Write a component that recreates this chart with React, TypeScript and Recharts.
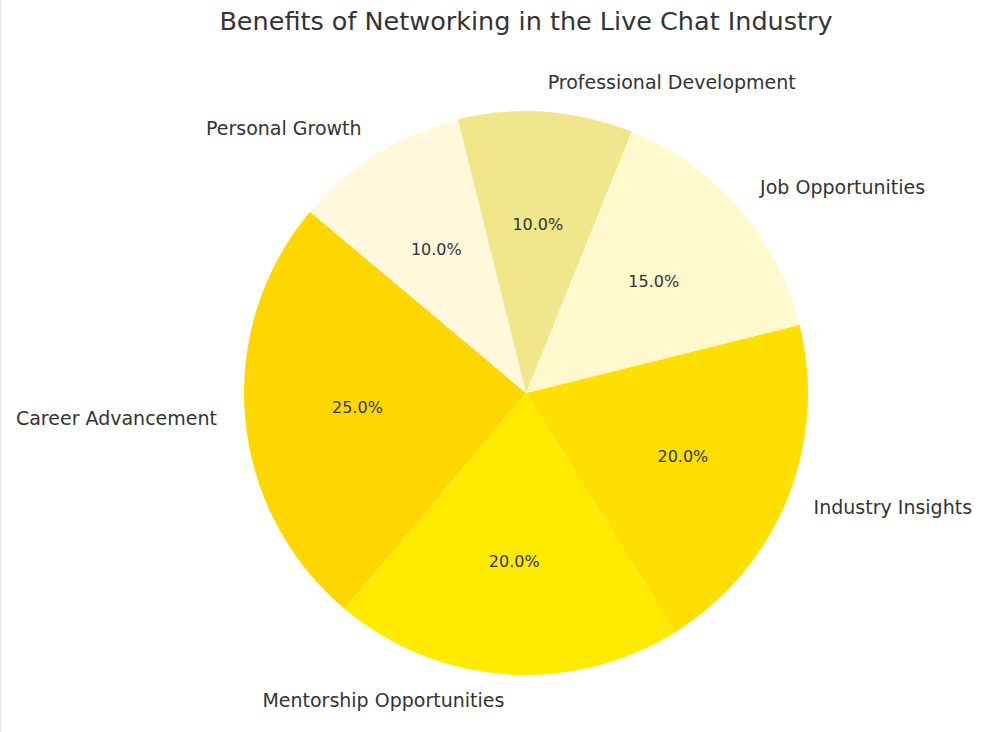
import { PieChart, Pie, Cell } from 'recharts';

const categories = [
  'Career Advancement',
  'Mentorship Opportunities',
  'Industry Insights',
  'Job Opportunities',
  'Professional Development',
  'Personal Growth',
];
const shares = [25, 20, 20, 15, 10, 10];
const colors = ['#FFD700', '#FFEA00', '#FFDF00', '#FFF9CD', '#F0E68C', '#FFF8DC'];

const data = categories.map((name, i) => ({ name, value: shares[i] }));

const RAD = Math.PI / 180;
const font = 'DejaVu Sans, sans-serif';

const renderLabel = ({ cx, cy, midAngle, outerRadius, percent, index }: any) => {
  const cos = Math.cos(-midAngle * RAD);
  const sin = Math.sin(-midAngle * RAD);
  const lx = cx + outerRadius * 1.1 * cos;
  const ly = cy + outerRadius * 1.1 * sin - 2;
  const px = cx + outerRadius * 0.6 * cos;
  const py = cy + outerRadius * 0.6 * sin;
  return (
    <g>
      <text
        x={lx}
        y={ly}
        fill="#333"
        fontSize={19}
        fontFamily={font}
        textAnchor={cos < 0 ? 'end' : 'start'}
        dominantBaseline="central"
      >
        {categories[index]}
      </text>
      <text
        x={px}
        y={py}
        fill="#333"
        fontSize={16}
        fontFamily={font}
        textAnchor="middle"
        dominantBaseline="central"
      >
        {(percent * 100).toFixed(1)}%
      </text>
    </g>
  );
};

export default function App() {
  return (
    <div style={{ position: 'absolute', left: 0, top: 0, width: 990, height: 732, background: '#fff' }}>
      <div style={{ position: 'absolute', left: 0, top: 0, width: 1, height: 732, background: '#e2e2e2' }} />
      <div
        style={{
          position: 'absolute',
          top: 6,
          left: 0,
          width: 1052,
          textAlign: 'center',
          fontFamily: font,
          fontSize: 25.5,
          color: '#333',
        }}
      >
        Benefits of Networking in the Live Chat Industry
      </div>
      <PieChart width={990} height={732} margin={{ top: 0, right: 0, bottom: 0, left: 0 }}>
        <Pie
          data={data}
          dataKey="value"
          nameKey="name"
          cx={526}
          cy={393}
          outerRadius={282}
          startAngle={140}
          endAngle={500}
          stroke="none"
          label={renderLabel}
          labelLine={false}
          isAnimationActive={false}
        >
          {data.map((d, i) => (
            <Cell key={d.name} fill={colors[i]} />
          ))}
        </Pie>
      </PieChart>
    </div>
  );
}
